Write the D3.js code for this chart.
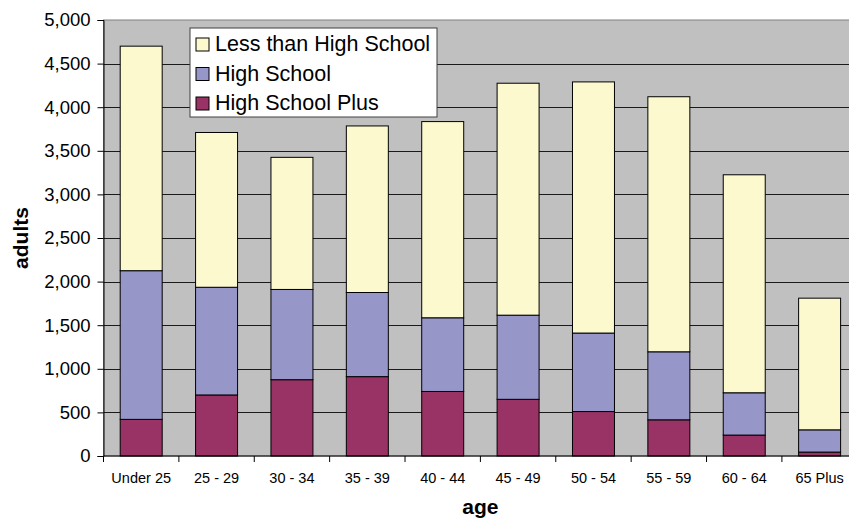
<!DOCTYPE html>
<html>
<head>
<meta charset="utf-8">
<script src="https://cdn.jsdelivr.net/npm/d3@7"></script>
<style>
  body { margin: 0; background: #fff; }
  svg { display: block; font-family: "Liberation Sans", Arial, sans-serif; }
</style>
</head>
<body>
<div id="chart"></div>
<script>
const ages = ["Under 25", "25 - 29", "30 - 34", "35 - 39", "40 - 44", "45 - 49", "50 - 54", "55 - 59", "60 - 64", "65 Plus"];
const highSchoolPlus = [420, 700, 875, 910, 740, 650, 510, 415, 240, 45];
const highSchool = [1705, 1235, 1035, 965, 845, 965, 900, 780, 485, 255];
const lessThanHighSchool = [2575, 1775, 1515, 1910, 2250, 2660, 2880, 2925, 2500, 1510];
const seriesNames = ["High School Plus", "High School", "Less than High School"];
const yTicks = [0, 500, 1000, 1500, 2000, 2500, 3000, 3500, 4000, 4500, 5000];

const colors = {
  "Less than High School": "#fcf9cf",
  "High School": "#9696c9",
  "High School Plus": "#993366"
};

const width = 849;
const height = 519;
const margin = { top: 20, left: 103.5 };
const plotW = 753.8; // plot runs past the right edge of the window
const plotH = 436;

// build rows for d3.stack from the arrays
const rows = ages.map((a, i) => ({
  age: a,
  "High School Plus": highSchoolPlus[i],
  "High School": highSchool[i],
  "Less than High School": lessThanHighSchool[i]
}));

const stacked = d3.stack().keys(seriesNames)(rows);

const x = d3.scaleBand()
  .domain(ages)
  .range([margin.left, margin.left + plotW])
  .paddingInner(0.443)
  .paddingOuter(0.2215);

const xb = d3.scaleBand().domain(ages).range([margin.left, margin.left + plotW]);

const y = d3.scaleLinear()
  .domain([0, 5000])
  .range([margin.top + plotH, margin.top]);

const svg = d3.select("#chart").append("svg")
  .attr("width", width)
  .attr("height", height);

// plot background
svg.append("rect")
  .attr("x", margin.left)
  .attr("y", margin.top)
  .attr("width", plotW)
  .attr("height", plotH)
  .attr("fill", "#c0c0c0")
  .attr("stroke", "#808080")
  .attr("stroke-width", 1);

// gridlines
svg.append("g")
  .selectAll("line")
  .data(yTicks.filter(d => d > 0 && d < 5000))
  .join("line")
  .attr("x1", margin.left)
  .attr("x2", margin.left + plotW)
  .attr("y1", d => Math.round(y(d)) + 0.5)
  .attr("y2", d => Math.round(y(d)) + 0.5)
  .attr("stroke", "#1a1a1a")
  .attr("stroke-width", 1);

// bars
svg.append("g")
  .selectAll("g")
  .data(stacked)
  .join("g")
  .attr("fill", d => colors[d.key])
  .selectAll("rect")
  .data(d => d)
  .join("rect")
  .attr("x", d => x(d.data.age))
  .attr("y", d => y(d[1]))
  .attr("width", x.bandwidth())
  .attr("height", d => y(d[0]) - y(d[1]))
  .attr("stroke", "#000")
  .attr("stroke-width", 1);

// y axis
const yAxis = d3.axisLeft(y)
  .tickValues(yTicks)
  .tickSize(6)
  .tickPadding(7)
  .tickFormat(d3.format(","));

svg.append("g")
  .attr("transform", `translate(${margin.left},0)`)
  .call(yAxis)
  .call(g => g.select(".domain").attr("stroke", "#000"))
  .call(g => g.selectAll(".tick line").attr("stroke", "#000"))
  .call(g => g.selectAll("text")
    .attr("font-size", "18.5px")
    .attr("fill", "#000")
    .attr("font-family", "Liberation Sans, Arial, sans-serif"));

// x axis: ticks at band edges, labels centered
const xg = svg.append("g")
  .attr("transform", `translate(0,${margin.top + plotH})`);

xg.append("line")
  .attr("x1", margin.left)
  .attr("x2", margin.left + plotW)
  .attr("stroke", "#000");

xg.selectAll(".edge")
  .data(ages)
  .join("line")
  .attr("class", "edge")
  .attr("x1", d => xb(d))
  .attr("x2", d => xb(d))
  .attr("y1", 0)
  .attr("y2", 6)
  .attr("stroke", "#000");

xg.selectAll("text")
  .data(ages)
  .join("text")
  .attr("x", d => xb(d) + xb.bandwidth() / 2)
  .attr("y", 27)
  .attr("text-anchor", "middle")
  .attr("font-size", "14.5px")
  .attr("fill", "#000")
  .text(d => d);

// axis titles
svg.append("text")
  .attr("x", margin.left + plotW / 2)
  .attr("y", 514)
  .attr("text-anchor", "middle")
  .attr("font-size", "21px")
  .attr("font-weight", "bold")
  .text("age");

svg.append("text")
  .attr("transform", `translate(28,${margin.top + plotH / 2}) rotate(-90)`)
  .attr("text-anchor", "middle")
  .attr("font-size", "21px")
  .attr("font-weight", "bold")
  .text("adults");

// legend
const legendOrder = ["Less than High School", "High School", "High School Plus"];
const legend = svg.append("g").attr("transform", "translate(190,28)");

legend.append("rect")
  .attr("width", 247)
  .attr("height", 89)
  .attr("fill", "#fff")
  .attr("stroke", "#404040");

const items = legend.selectAll("g")
  .data(legendOrder)
  .join("g")
  .attr("transform", (d, i) => `translate(6,${10 + i * 29.5})`);

items.append("rect")
  .attr("width", 13)
  .attr("height", 13)
  .attr("fill", d => colors[d])
  .attr("stroke", "#000");

items.append("text")
  .attr("x", 19)
  .attr("y", 13)
  .attr("font-size", "21.5px")
  .attr("fill", "#000")
  .text(d => d);
</script>
</body>
</html>
